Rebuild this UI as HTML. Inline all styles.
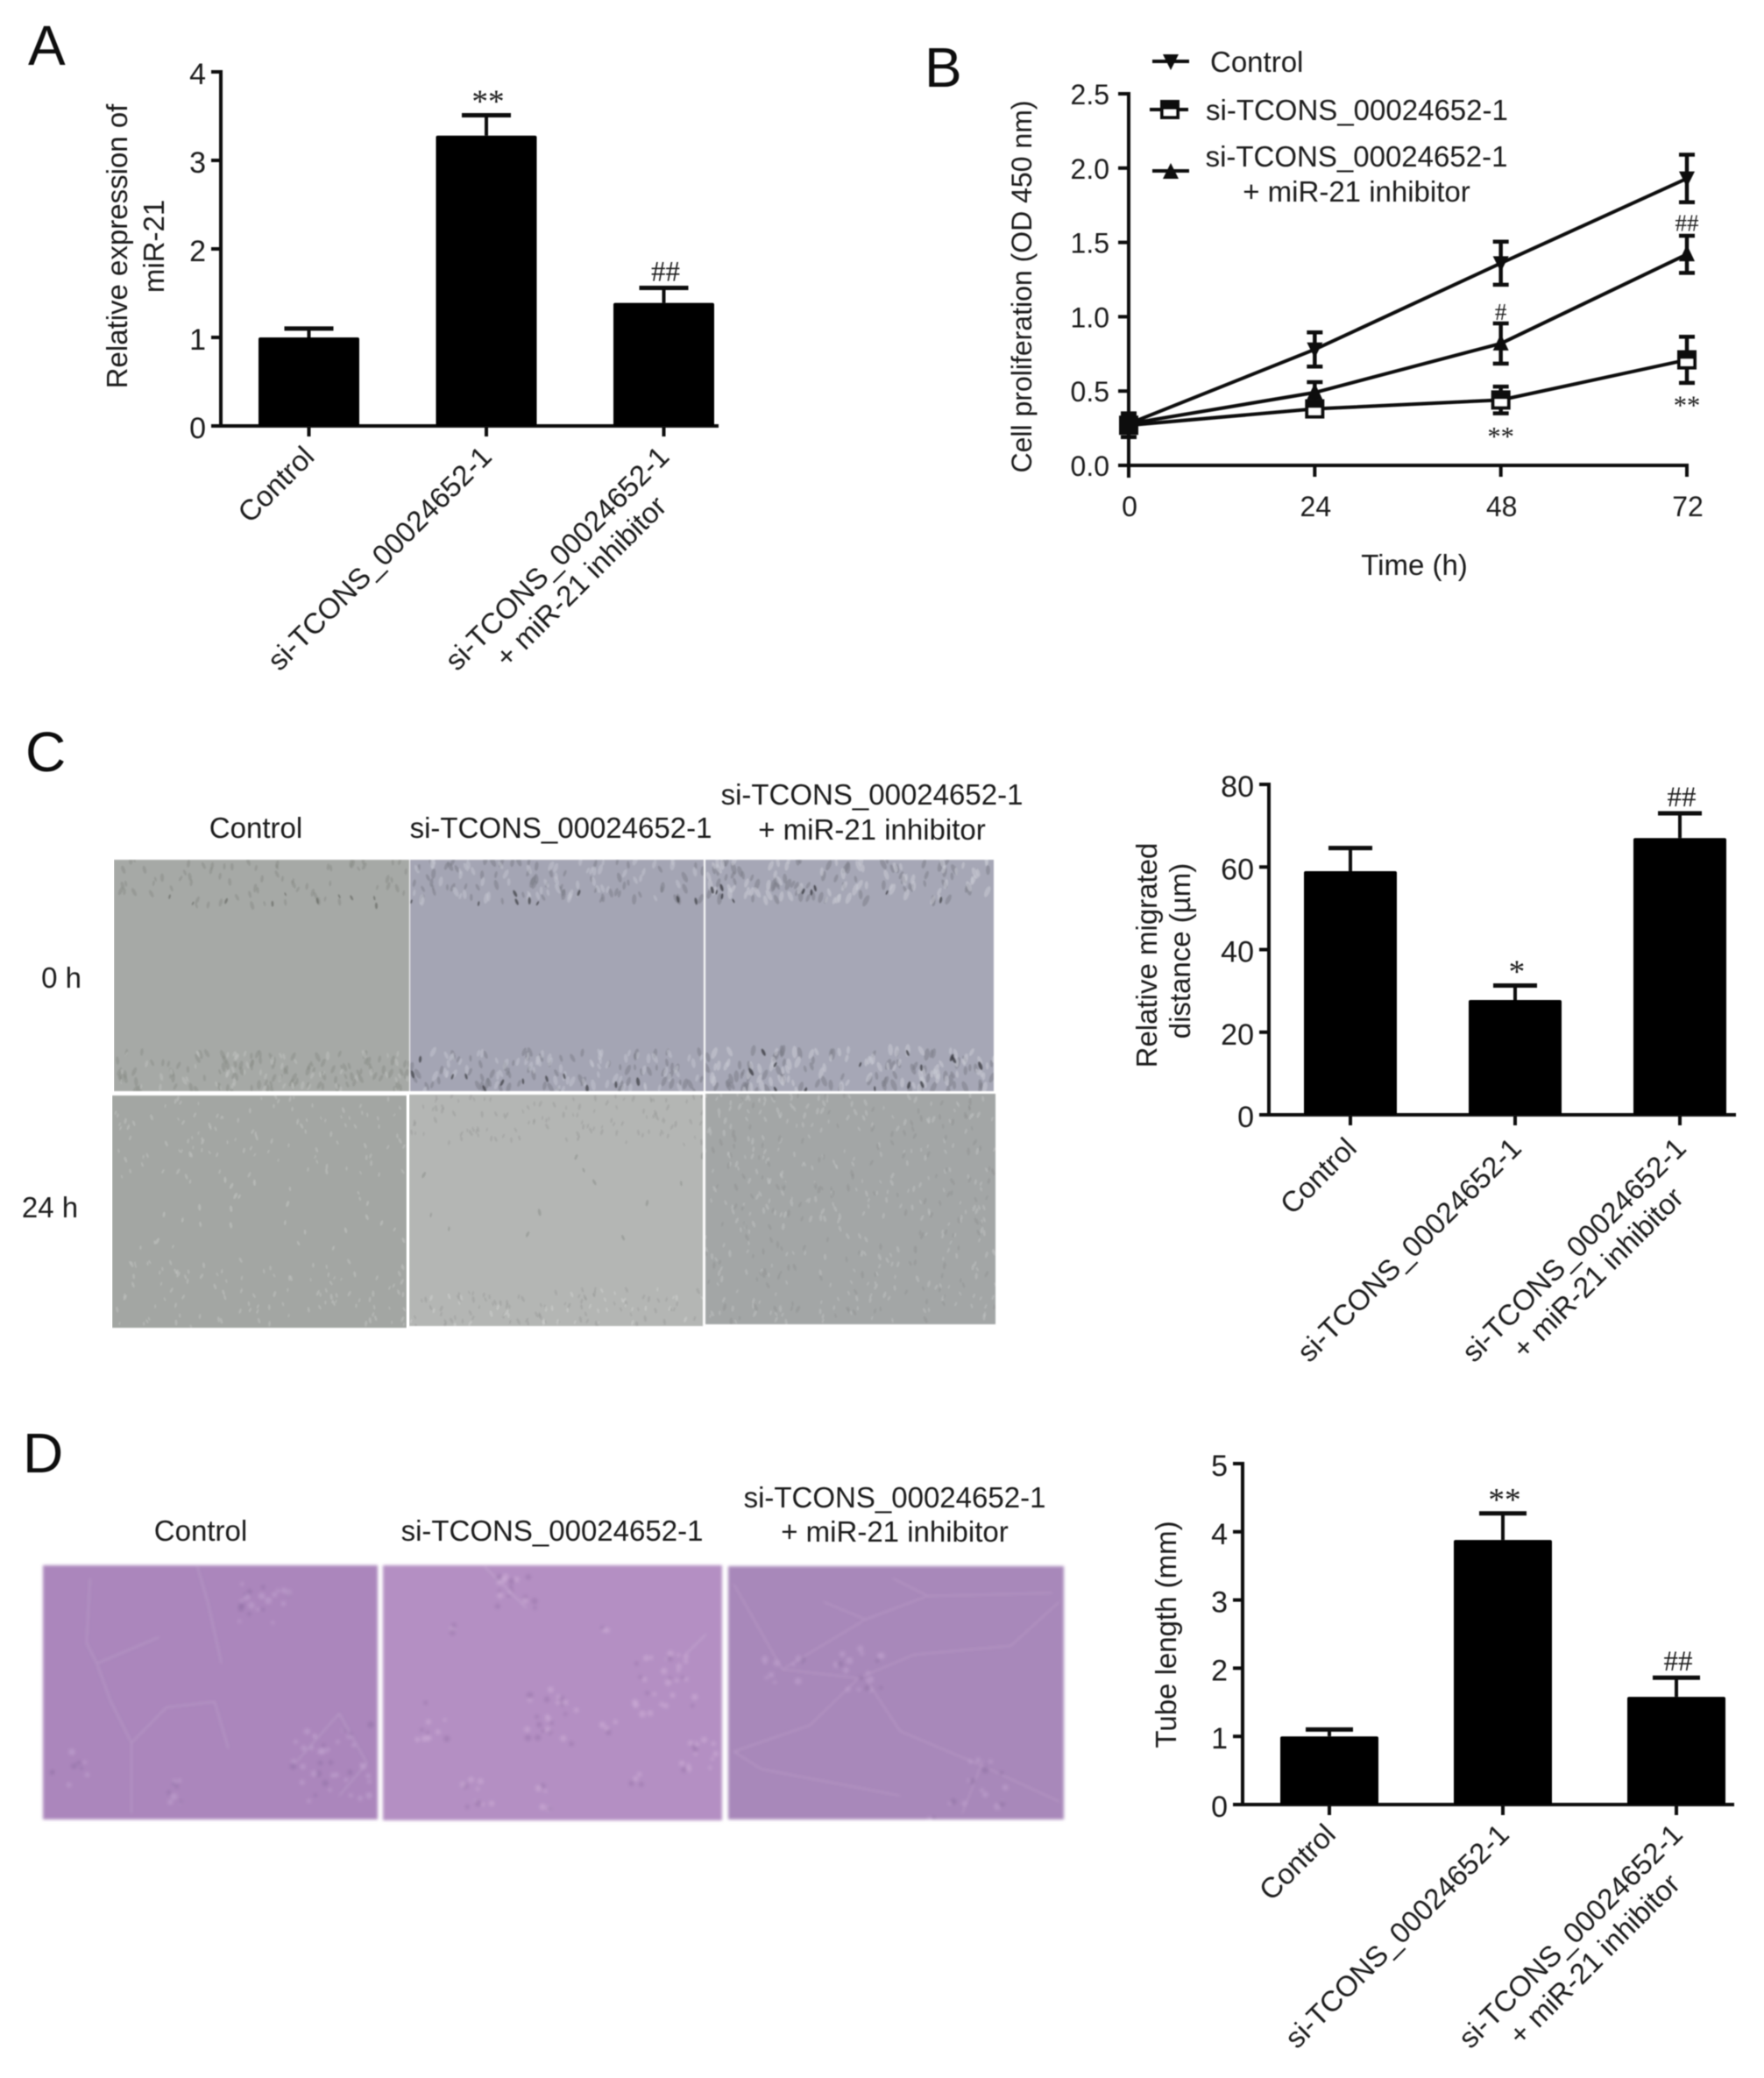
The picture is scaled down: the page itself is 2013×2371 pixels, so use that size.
<!DOCTYPE html>
<html lang="en">
<head>
<meta charset="utf-8">
<title>si-TCONS_00024652-1 figure</title>
<style>
html,body{margin:0;padding:0;background:#fff;width:2013px;height:2371px;overflow:hidden}
svg{position:absolute;left:0;top:0;display:block}
text{font-family:"Liberation Sans",Arial,sans-serif;fill:#1c1c1c;font-size:33px}
.letter{font-size:64px;fill:#111}
</style>
</head>
<body>
<svg id="figure" xmlns="http://www.w3.org/2000/svg" width="2013" height="2371" viewBox="0 0 2013 2371">
  <defs>
    <filter id="soft" x="-5%" y="-5%" width="110%" height="110%"><feGaussianBlur stdDeviation="0.6"/></filter>
    <filter id="photoBlur" x="0" y="0" width="100%" height="100%"><feGaussianBlur stdDeviation="0.9"/></filter>
    <filter id="tubeBlur" x="-5%" y="-5%" width="110%" height="110%"><feGaussianBlur stdDeviation="1.8"/></filter>
  </defs>
  <rect x="0" y="0" width="2013" height="2371" fill="#fff"/>
  <g id="photos"></g>
  <g id="ink" filter="url(#soft)">
    <text class="letter" x="32" y="74">A</text>
    <text class="letter" x="1055" y="99">B</text>
    <text class="letter" x="29" y="880">C</text>
    <text class="letter" x="26" y="1680">D</text>

    <g text-anchor="middle">
      <text x="292" y="956">Control</text>
      <text x="640" y="956">si-TCONS_00024652-1</text>
      <text x="995" y="918">si-TCONS_00024652-1</text>
      <text x="995" y="958">+ miR-21 inhibitor</text>
      <text x="70" y="1127" font-size="30">0 h</text>
      <text x="57" y="1389" font-size="30">24 h</text>
    </g>
    <g text-anchor="middle">
      <text x="229" y="1758">Control</text>
      <text x="630" y="1758">si-TCONS_00024652-1</text>
      <text x="1021" y="1720">si-TCONS_00024652-1</text>
      <text x="1021" y="1759">+ miR-21 inhibitor</text>
    </g>

    <g>
      <g>
        <line x1="1315" y1="70" x2="1357" y2="70" stroke="#111" stroke-width="4"/>
        <polygon points="1327,62 1345,62 1336,80" fill="#111"/>
        <text x="1381" y="82">Control</text>
      </g>
      <g>
        <line x1="1312" y1="125" x2="1356" y2="125" stroke="#111" stroke-width="4"/>
        <rect x="1326" y="116" width="18" height="18" fill="#fff" stroke="#111" stroke-width="4"/>
        <rect x="1326" y="116" width="18" height="9" fill="#111"/>
        <text x="1376" y="137">si-TCONS_00024652-1</text>
      </g>
      <g>
        <line x1="1315" y1="195" x2="1357" y2="195" stroke="#111" stroke-width="4"/>
        <polygon points="1327,204 1345,204 1336,186" fill="#111"/>
        <text x="1548" y="190" text-anchor="middle">si-TCONS_00024652-1</text>
        <text x="1548" y="230" text-anchor="middle">+ miR-21 inhibitor</text>
      </g>
    </g>
  </g>
</svg>

<script>
/* ---------- chart data ---------- */
const barCategories = ['Control', 'si-TCONS_00024652-1', 'si-TCONS_00024652-1|+ miR-21 inhibitor'];

const panelATicks = [0, 1, 2, 3, 4];
const panelAValues = [1.0, 3.28, 1.39];
const panelAErrors = [0.1, 0.23, 0.17];
const panelAMarks = ['', '**', '##'];

const panelCTicks = [0, 20, 40, 60, 80];
const panelCValues = [59, 27.8, 67];
const panelCErrors = [5.6, 3.5, 6.0];
const panelCMarks = ['', '*', '##'];

const panelDTicks = [0, 1, 2, 3, 4, 5];
const panelDValues = [1.0, 3.88, 1.58];
const panelDErrors = [0.1, 0.39, 0.28];
const panelDMarks = ['', '**', '##'];

const hours = [0, 24, 48, 72];
const hourTicks = [0, 24, 48, 72];
const odTicks = ['0.0', '0.5', '1.0', '1.5', '2.0', '2.5'];
const controlValues = [0.28, 0.78, 1.36, 1.93];
const controlErrors = [0.05, 0.115, 0.145, 0.16];
const siValues = [0.27, 0.38, 0.44, 0.71];
const siErrors = [0.08, 0.04, 0.09, 0.155];
const inhibitorValues = [0.28, 0.49, 0.82, 1.42];
const inhibitorErrors = [0.05, 0.07, 0.135, 0.125];
const noteLabels = ['##', '#', '**', '**'];
const noteHours = [72, 48, 48, 72];
const noteValues = [1.63, 1.03, 0.21, 0.42];

/* ---------- helpers ---------- */
const NS = 'http://www.w3.org/2000/svg';
const ink = document.getElementById('ink');
const photos = document.getElementById('photos');

function mk(tag, attrs, parent, name, text) {
  const el = document.createElementNS(NS, tag);
  for (const k in attrs) el.setAttribute(k, attrs[k]);
  
  
  if (text !== undefined) el.textContent = text;
  parent.appendChild(el);
  return el;
}

function mark(parent, label, cx, cy, size, name) {
  const isStar = label.indexOf('*') >= 0;
  const base = cy + (isStar ? 0.47 : 0.33) * size;
  const t = mk('text', {x: cx, y: base, 'text-anchor': 'middle'}, parent, name, label);
  t.style.fontFamily = '"Liberation Serif",serif';
  t.style.fontSize = (isStar ? size * 1.13 : size) + 'px';
}

function axisLine(parent, x1, y1, x2, y2, name, w) {
  mk('line', {x1: x1, y1: y1, x2: x2, y2: y2, stroke: '#111', 'stroke-width': w || 4}, parent, name);
}

/* ---------- bar chart ---------- */
function barChart(o) {
  const g = mk('g', {}, ink, o.name);
  const maxV = o.ticks[o.ticks.length - 1];
  const yScale = v => o.base - (v / maxV) * (o.base - o.top);
  const xScale = i => o.x0 + i * o.step;

  axisLine(g, o.axisX, o.top - 2, o.axisX, o.base + 2, 'y-axis');
  axisLine(g, o.axisX - 11, o.base, o.right, o.base, 'x-axis');

  o.ticks.forEach(t => {
    const y = yScale(t);
    axisLine(g, o.axisX - 11, y, o.axisX, y, 'y-tick');
    const lab = mk('text', {x: o.axisX - 17, y: y + 14, 'text-anchor': 'end'}, g, 'y-tick-label', String(t));
    lab.style.fontSize = '34px';
  });

  o.values.forEach((v, i) => {
    const cx = xScale(i);
    const topErr = yScale(v + o.errors[i]);
    axisLine(g, cx, yScale(v), cx, topErr, 'error-bar');
    axisLine(g, cx - o.cap / 2, topErr, cx + o.cap / 2, topErr, 'error-cap', 5);
    mk('rect', {x: cx - o.barW / 2, y: yScale(v), width: o.barW, height: o.base - yScale(v), fill: '#000', rx: 2}, g, 'bar-' + i);
    axisLine(g, cx, o.base, cx, o.base + 12, 'x-tick');
    if (o.marks[i]) mark(g, o.marks[i], cx + 2, topErr - 19, 33, 'significance-mark');

    const lines = barCategories[i].split('|');
    const lg = mk('g', {transform: 'translate(' + (cx + o.labelDx) + ',' + (o.base + o.labelDy) + ') rotate(-45)'}, g, 'x-category-label');
    mk('text', {x: 0, y: 0, 'text-anchor': 'end'}, lg, 'x-label-line', lines[0]);
    if (lines[1]) mk('text', {x: -172, y: 38, 'text-anchor': 'middle'}, lg, 'x-label-line', lines[1]);
  });

  o.title.forEach((line, i) => {
    const c = o.titlePos[i];
    mk('text', {transform: 'translate(' + c[0] + ',' + c[1] + ') rotate(-90)', 'text-anchor': 'middle'}, g, 'y-axis-title', line);
  });
}

barChart({name: 'bar-chart-mir21', ticks: panelATicks, values: panelAValues, errors: panelAErrors, marks: panelAMarks,
  axisX: 252, top: 82, base: 486, right: 820, x0: 352.5, step: 202.5, barW: 115, cap: 56, labelDx: 8, labelDy: 37,
  title: ['Relative expression of', 'miR-21'], titlePos: [[145, 281], [187, 281]]});

barChart({name: 'bar-chart-migration', ticks: panelCTicks, values: panelCValues, errors: panelCErrors, marks: panelCMarks,
  axisX: 1448, top: 895, base: 1272, right: 1981, x0: 1541, step: 188, barW: 106, cap: 50, labelDx: 9, labelDy: 40,
  title: ['Relative migrated', 'distance (\u00b5m)'], titlePos: [[1320, 1090], [1358, 1085]]});

barChart({name: 'bar-chart-tube-length', ticks: panelDTicks, values: panelDValues, errors: panelDErrors, marks: panelDMarks,
  axisX: 1418, top: 1670, base: 2059, right: 1979, x0: 1517, step: 198, barW: 112, cap: 54, labelDx: 9, labelDy: 36,
  title: ['Tube length (mm)'], titlePos: [[1342, 1865]]});

/* ---------- line chart ---------- */
(function lineChart() {
  const g = mk('g', {}, ink, 'line-chart-proliferation');
  const left = 1288, right = 1925, base = 531, top = 107;
  const yScale = v => base - (v / 2.5) * (base - top);
  const xScale = h => left + (h / 72) * (right - left);

  axisLine(g, left, top - 2, left, base + 14, 'y-axis');
  axisLine(g, left - 11, base, right + 2, base, 'x-axis');

  odTicks.forEach(t => {
    const y = yScale(parseFloat(t));
    axisLine(g, left - 12, y, left, y, 'y-tick');
    const lab = mk('text', {x: left - 22, y: y + 12, 'text-anchor': 'end'}, g, 'y-tick-label', t);
    lab.style.fontSize = '32px';
  });
  hourTicks.forEach(h => {
    const x = xScale(h);
    axisLine(g, x, base, x, base + 13, 'x-tick');
    const lab = mk('text', {x: x + 1, y: 589, 'text-anchor': 'middle'}, g, 'x-tick-label', String(h));
    lab.style.fontSize = '32px';
  });
  mk('text', {x: 1614, y: 656, 'text-anchor': 'middle'}, g, 'x-axis-title', 'Time (h)');
  const yTitle = mk('text', {transform: 'translate(1177,327) rotate(-90)', 'text-anchor': 'middle'}, g, 'y-axis-title', 'Cell proliferation (OD 450 nm)');
  yTitle.style.fontSize = '32px';

  function series(values, errors, kind, name) {
    const sg = mk('g', {}, g, name);
    const pts = values.map((v, i) => xScale(hours[i]) + ',' + yScale(v)).join(' ');
    mk('polyline', {points: pts, fill: 'none', stroke: '#111', 'stroke-width': 4}, sg, 'series-line');
    values.forEach((v, i) => {
      const x = xScale(hours[i]), y = yScale(v);
      const hi = yScale(v + errors[i]), lo = yScale(v - errors[i]);
      axisLine(sg, x, hi, x, lo, 'error-bar', 4.5);
      axisLine(sg, x - 9, hi, x + 9, hi, 'error-cap', 4.5);
      axisLine(sg, x - 9, lo, x + 9, lo, 'error-cap', 4.5);
      if (kind === 'down') {
        mk('polygon', {points: [x - 9, y - 8, x + 9, y - 8, x, y + 10].join(','), fill: '#111'}, sg, 'marker-down-triangle');
      } else if (kind === 'up') {
        mk('polygon', {points: [x - 9, y + 8, x + 9, y + 8, x, y - 11].join(','), fill: '#111'}, sg, 'marker-up-triangle');
      } else {
        mk('rect', {x: x - 9, y: y - 9, width: 18, height: 18, fill: i === 0 ? '#111' : '#fff', stroke: '#111', 'stroke-width': 4}, sg, 'marker-square');
        mk('rect', {x: x - 9, y: y - 9, width: 18, height: 8, fill: '#111'}, sg, 'marker-square-top');
      }
    });
  }
  series(controlValues, controlErrors, 'down', 'series-control');
  series(siValues, siErrors, 'square', 'series-si');
  series(inhibitorValues, inhibitorErrors, 'up', 'series-si-inhibitor');

  noteLabels.forEach((n, i) => {
    mark(g, n, xScale(noteHours[i]), yScale(noteValues[i]), 27, 'significance-mark');
  });
})();

/* ---------- microscopy textures (decorative) ---------- */
function lcg(seed) {
  let s = seed >>> 0;
  return function () { s = (Math.imul(s, 1664525) + 1013904223) >>> 0; return s / 4294967296; };
}

let clipCount = 0;
function clippedGroup(o, filterId) {
  const g = mk('g', {filter: 'url(#' + filterId + ')'}, photos, o.name);
  clipCount += 1;
  const id = 'photoClip' + clipCount;
  const cp = mk('clipPath', {id: id}, g, 'image-clip');
  mk('rect', {x: o.x, y: o.y, width: o.w, height: o.h}, cp, 'image-clip-rect');
  const inner = mk('g', {'clip-path': 'url(#' + id + ')'}, g, 'image-content');
  mk('rect', {x: o.x, y: o.y, width: o.w, height: o.h, fill: o.fill}, inner, 'image-field');
  return inner;
}

function cellPanel(o) {
  const g = clippedGroup(o, 'photoBlur');
  const r = lcg(o.seed);
  (o.bands || []).forEach(b => {
    for (let i = 0; i < b.n; i++) {
      const cx = o.x + r() * o.w;
      const cy = o.y + (b.from + r() * (b.to - b.from)) * o.h;
      const rx = b.size * (0.7 + 0.6 * r());
      const angle = Math.round(60 + r() * 60);
      mk('ellipse', {cx: cx, cy: cy, rx: rx, ry: rx * 0.42, fill: b.color, opacity: b.opacity,
        transform: 'rotate(' + angle + ' ' + cx + ' ' + cy + ')'}, g, 'cell');
    }
  });
}

const lightCell = '#c2c4c2';
cellPanel({name: 'scratch-control-0h', x: 130, y: 981, w: 337, h: 264, fill: '#a6a9a6', seed: 11, bands: [
  {from: 0, to: .2, n: 70, size: 4, color: '#888c86', opacity: .5},
  {from: .14, to: .2, n: 10, size: 3, color: '#5f625c', opacity: .6},
  {from: .83, to: 1, n: 110, size: 4.5, color: '#8a8e88', opacity: .5},
  {from: .83, to: 1, n: 60, size: 4, color: lightCell, opacity: .45}]});
cellPanel({name: 'scratch-si-0h', x: 468, y: 981, w: 335, h: 264, fill: '#a4a5b4', seed: 23, bands: [
  {from: 0, to: .18, n: 70, size: 5, color: '#797b86', opacity: .5},
  {from: 0, to: .18, n: 60, size: 5, color: '#c4c6d0', opacity: .5},
  {from: .14, to: .2, n: 9, size: 3.5, color: '#3b3c42', opacity: .7},
  {from: .83, to: 1, n: 70, size: 5, color: '#797b86', opacity: .5},
  {from: .83, to: 1, n: 70, size: 5, color: '#c4c6d0', opacity: .5},
  {from: .84, to: 1, n: 12, size: 4, color: '#3b3c42', opacity: .7}]});
cellPanel({name: 'scratch-si-inhibitor-0h', x: 805, y: 981, w: 329, h: 264, fill: '#a6a7b6', seed: 37, bands: [
  {from: 0, to: .18, n: 70, size: 5.5, color: '#797b86', opacity: .5},
  {from: 0, to: .18, n: 70, size: 5.5, color: '#c8cad4', opacity: .55},
  {from: .12, to: .18, n: 10, size: 3.5, color: '#36373e', opacity: .75},
  {from: .82, to: 1, n: 80, size: 5.5, color: '#797b86', opacity: .5},
  {from: .82, to: 1, n: 80, size: 5.5, color: '#c8cad4', opacity: .55},
  {from: .83, to: 1, n: 14, size: 4, color: '#36373e', opacity: .75}]});
cellPanel({name: 'scratch-control-24h', x: 128, y: 1250, w: 336, h: 265, fill: '#a3a6a3', seed: 41, bands: [
  {from: 0, to: .35, n: 110, size: 2.8, color: lightCell, opacity: .5},
  {from: .35, to: .7, n: 30, size: 3, color: lightCell, opacity: .6},
  {from: .7, to: 1, n: 110, size: 2.8, color: lightCell, opacity: .5}]});
cellPanel({name: 'scratch-si-24h', x: 467, y: 1249, w: 335, h: 264, fill: '#b4b6b4', seed: 53, bands: [
  {from: 0, to: .22, n: 110, size: 3, color: '#999c99', opacity: .5},
  {from: .25, to: .75, n: 12, size: 3.5, color: '#8c8f8c', opacity: .55},
  {from: .84, to: 1, n: 80, size: 3, color: '#999c99', opacity: .5},
  {from: .84, to: 1, n: 40, size: 3, color: '#cfd1cf', opacity: .5}]});
cellPanel({name: 'scratch-si-inhibitor-24h', x: 805, y: 1248, w: 331, h: 263, fill: '#a3a6a6', seed: 67, bands: [
  {from: 0, to: 1, n: 320, size: 3.2, color: '#bfc2c2', opacity: .5},
  {from: 0, to: 1, n: 160, size: 3.5, color: '#8b8e8e', opacity: .4}]});

function tubePanel(o) {
  const g = clippedGroup(o, 'tubeBlur');
  const sx = z => z * 0.79;
  const sy = z => 1620 + z * 0.335;
  o.tubes.forEach(t => {
    const pts = t.map(p => sx(p[0]) + ',' + sy(p[1])).join(' ');
    mk('polyline', {points: pts, fill: 'none', stroke: o.edge, 'stroke-width': 5, opacity: .3, 'stroke-linejoin': 'round'}, g, 'tube-edge');
    mk('polyline', {points: pts, fill: 'none', stroke: o.light, 'stroke-width': 3, opacity: .55, 'stroke-linejoin': 'round'}, g, 'tube-core');
  });
  const r = lcg(o.seed);
  o.clusters.forEach(c => {
    for (let i = 0; i < c[3]; i++) {
      const cx = sx(c[0]) + (r() - .5) * c[2];
      const cy = sy(c[1]) + (r() - .5) * c[2];
      mk('circle', {cx: cx, cy: cy, r: 2 + r() * 2, fill: r() < .6 ? o.light : o.edge, opacity: .5}, g, 'tube-cell');
    }
  });
}
tubePanel({name: 'tube-control', x: 49, y: 1786, w: 382, h: 290, fill: '#ab86bc', edge: '#8f6da4', light: '#c4a5d2', seed: 5,
  tubes: [[[285,500],[300,620],[320,830]], [[130,540],[125,760],[140,830],[160,960],[190,1100],[190,1340]], [[140,830],[230,740]],
          [[190,1100],[240,980],[310,960],[330,1120]], [[430,1160],[490,1000],[530,1170],[490,1280]]],
  clusters: [[380,620,60,22],[480,1170,90,40],[260,1270,30,9],[100,1190,45,9]]});
tubePanel({name: 'tube-si', x: 437, y: 1786, w: 387, h: 291, fill: '#b48fc3', edge: '#9673a8', light: '#cfb2da', seed: 9,
  tubes: [[[700,500],[760,640]], [[1020,730],[990,800]]],
  clusters: [[745,590,45,18],[960,900,70,30],[800,1010,65,24],[1010,1150,45,14],[690,1270,35,10],[630,1030,45,10],[650,710,12,3],[870,710,15,3],[880,1050,18,4],[920,1220,15,4],[790,1290,30,6]]});
tubePanel({name: 'tube-si-inhibitor', x: 831, y: 1787, w: 383, h: 289, fill: '#a888ba', edge: '#8a6b9e', light: '#c4a6d2', seed: 13,
  tubes: [[[1130,850],[1250,680],[1340,600],[1520,590]], [[1060,560],[1130,850],[1240,880],[1320,800],[1460,770],[1530,620]],
          [[1240,880],[1170,1040],[1060,1130],[1100,1190],[1300,1280]], [[1250,880],[1300,1060],[1420,1180],[1530,1300]],
          [[1290,540],[1340,600]], [[1420,1160],[1390,1340]], [[1190,620],[1250,680]]],
  clusters: [[1240,860,55,18],[1130,830,45,10],[1420,1240,55,14],[1360,1330,30,6]]});
</script>
</body>
</html>
